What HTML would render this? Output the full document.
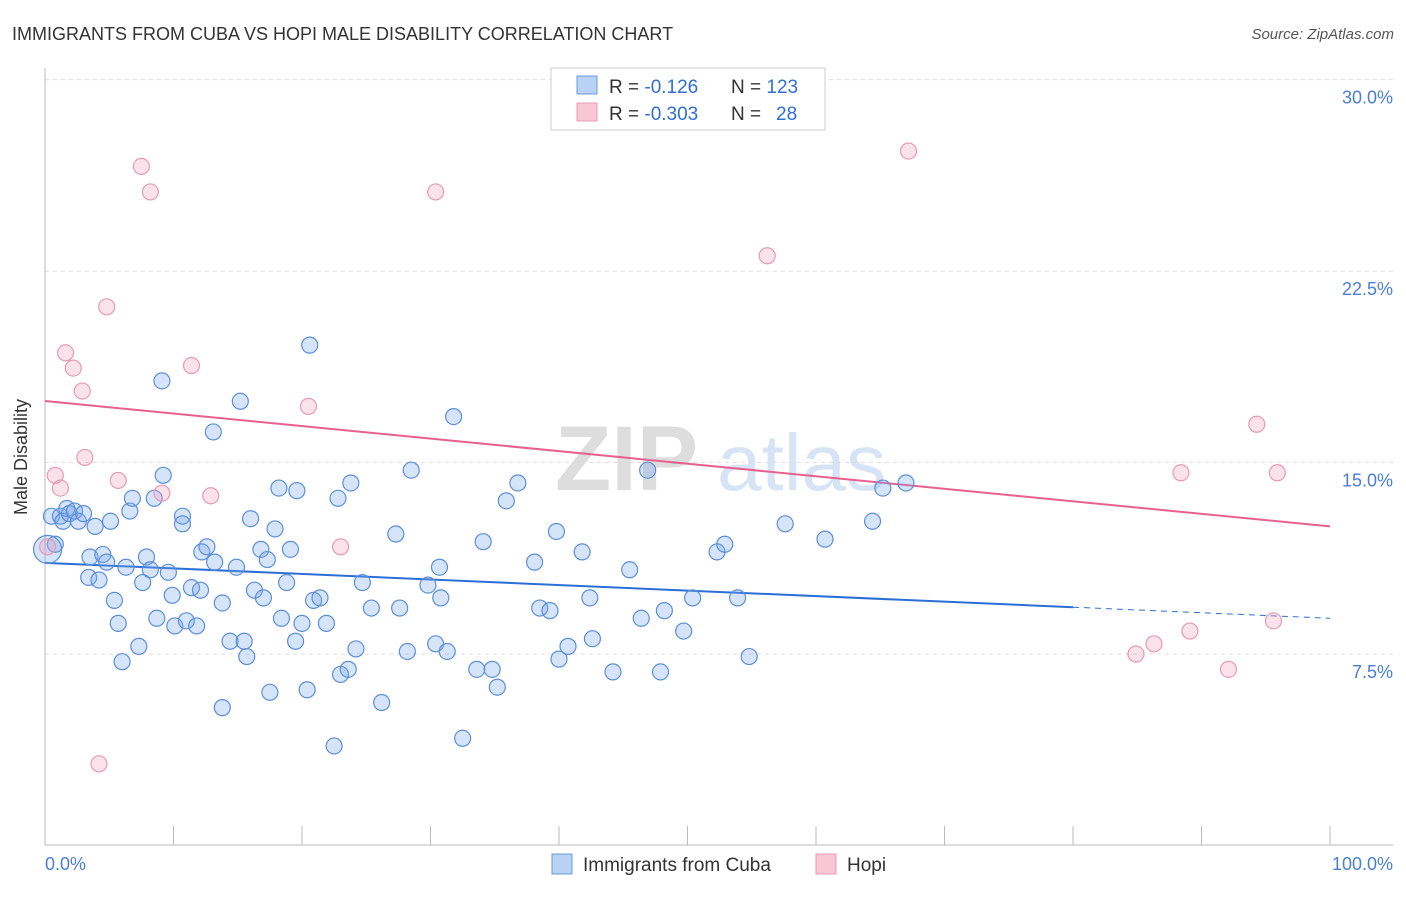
<!DOCTYPE html>
<html><head><meta charset="utf-8"><style>
body{margin:0;background:#fff;font-family:"Liberation Sans",sans-serif;}
svg text{font-family:"Liberation Sans",sans-serif;}
</style></head><body>
<svg id="chart" width="1406" height="892" xmlns="http://www.w3.org/2000/svg">
<text x="12" y="40" font-size="18" fill="#333">IMMIGRANTS FROM CUBA VS HOPI MALE DISABILITY CORRELATION CHART</text>
<text x="1394" y="39" font-size="15" fill="#555" font-style="italic" text-anchor="end">Source: ZipAtlas.com</text>
<g><text x="555" y="490" font-size="92" fill="#ddd" font-family="Liberation Serif" font-weight="bold">ZIP</text><text x="717" y="490" font-size="80" fill="#d6e4f5">atlas</text></g>
<g id="grid"></g>
<g id="axes"></g>
<g id="lines"></g>
<g id="pts"></g>
<text x="27" y="457" font-size="18" fill="#333" text-anchor="middle" transform="rotate(-90 27 457)">Male Disability</text>
<text x="45" y="870" font-size="18" fill="#4a7fd4">0.0%</text>
<text x="1393" y="870" font-size="18" fill="#4a7fd4" text-anchor="end">100.0%</text>
<g>
<rect x="551" y="68" width="274" height="62" fill="#fff" stroke="#ccc"/>
<rect x="577" y="76" width="20" height="18" fill="#b9d2f3" stroke="#6a9be0"/>
<rect x="577" y="103" width="20" height="18" fill="#f9c6d6" stroke="#ea9ab6"/>
<text x="609" y="93" font-size="19" fill="#333">R = <tspan fill="#2f6fd6">-0.126</tspan>  <tspan x="731">N = </tspan><tspan fill="#2f6fd6">123</tspan></text>
<text x="609" y="120" font-size="19" fill="#333">R = <tspan fill="#2f6fd6">-0.303</tspan>  <tspan x="731">N = </tspan><tspan fill="#2f6fd6" x="776">28</tspan></text>
</g>
<g>
<rect x="552" y="854" width="20" height="20" fill="#b9d2f3" stroke="#6a9be0"/>
<text x="583" y="871" font-size="19" fill="#333">Immigrants from Cuba</text>
<rect x="816" y="854" width="20" height="20" fill="#f9c6d6" stroke="#ea9ab6"/>
<text x="847" y="871" font-size="19" fill="#333">Hopi</text>
</g>
</svg>
<script>
const yTicks=[7.5,15,22.5,30];
const yTickLabels=["7.5%","15.0%","22.5%","30.0%"];
const xTicks=[0,10,20,30,40,50,60,70,80,90,100];
const cubaX=[0.5,0.8,1.2,1.4,1.7,1.9,2.3,2.6,3.0,3.4,3.5,3.9,4.2,4.5,4.8,5.1,5.4,5.7,6.0,6.3,6.6,6.8,7.3,7.6,7.9,8.2,8.5,8.7,9.1,9.2,9.6,9.9,10.1,10.7,10.7,11.0,11.4,11.8,12.1,12.2,12.6,13.1,13.2,13.8,13.8,14.4,14.9,15.2,15.5,15.7,16.0,16.3,16.8,17.0,17.3,17.5,17.9,18.2,18.4,18.8,19.1,19.5,19.6,20.0,20.4,20.6,20.9,21.4,21.9,22.5,22.8,23.0,23.6,23.8,24.2,24.7,25.4,26.2,27.3,27.6,28.2,28.5,29.8,30.4,30.7,30.8,31.3,31.8,32.5,33.6,34.1,34.8,35.2,35.9,36.8,38.1,38.5,39.3,39.8,40.0,40.7,41.8,42.4,42.6,44.2,45.5,46.4,46.9,47.9,48.2,49.7,50.4,52.3,52.9,53.9,54.8,57.6,60.7,64.4,65.2,67.0];
const cubaY=[12.9,11.8,12.9,12.7,13.2,13.0,13.1,12.7,13.0,10.5,11.3,12.5,10.4,11.4,11.1,12.7,9.6,8.7,7.2,10.9,13.1,13.6,7.8,10.3,11.3,10.8,13.6,8.9,18.2,14.5,10.7,9.8,8.6,12.9,12.6,8.8,10.1,8.6,10.0,11.5,11.7,16.2,11.1,5.4,9.5,8.0,10.9,17.4,8.0,7.4,12.8,10.0,11.6,9.7,11.2,6.0,12.4,14.0,8.9,10.3,11.6,8.0,13.9,8.7,6.1,19.6,9.6,9.7,8.7,3.9,13.6,6.7,6.9,14.2,7.7,10.3,9.3,5.6,12.2,9.3,7.6,14.7,10.2,7.9,10.9,9.7,7.6,16.8,4.2,6.9,11.9,6.9,6.2,13.5,14.2,11.1,9.3,9.2,12.3,7.3,7.8,11.5,9.7,8.1,6.8,10.8,8.9,14.7,6.8,9.2,8.4,9.7,11.5,11.8,9.7,7.4,12.6,12.0,12.7,14.0,14.2];
const hopiX=[0.2,0.8,1.2,1.6,2.2,2.9,3.1,4.2,4.8,5.7,7.5,8.2,9.1,11.4,12.9,20.5,23.0,30.4,56.2,67.2,84.9,86.3,88.4,89.1,92.1,94.3,95.6,95.9];
const hopiY=[11.7,14.5,14.0,19.3,18.7,17.8,15.2,3.2,21.1,14.3,26.6,25.6,13.8,18.8,13.7,17.2,11.7,25.6,23.1,27.2,7.5,7.9,14.6,8.4,6.9,16.5,8.8,14.6];
const cubaTrend=[11.07,8.9];
const hopiTrend=[17.41,12.5];
const X=v=>45+v*12.85, Y=v=>845.5-v*25.53;
const NS="http://www.w3.org/2000/svg";
function mk(p,t,a){const e=document.createElementNS(NS,t);for(const k in a)e.setAttribute(k,a[k]);p.appendChild(e);return e;}
const grid=document.getElementById('grid'),axes=document.getElementById('axes'),lines=document.getElementById('lines'),pts=document.getElementById('pts');
yTicks.forEach((t,i)=>{const l=mk(grid,'line',{x1:45,x2:1393,y1:Y(t),y2:Y(t),stroke:'#ddd','stroke-dasharray':'4,4'});


const tx=mk(axes,'text',{x:1393,y:Y(t)+24,'font-size':18,fill:'#4a7fd4','text-anchor':'end'});tx.textContent=yTickLabels[i];

});
mk(axes,'line',{x1:45,x2:45,y1:68,y2:845,stroke:'#bbb'});
mk(axes,'line',{x1:45,x2:1393,y1:845,y2:845,stroke:'#bbb'});
xTicks.forEach(t=>{const l=mk(axes,'line',{x1:X(t),x2:X(t),y1:826,y2:845,stroke:'#bbb'});

});
const tl=(v,a)=>a[0]+(a[1]-a[0])*v/100;
let l1=mk(lines,'line',{x1:X(0),y1:Y(tl(0,cubaTrend)),x2:X(80),y2:Y(tl(80,cubaTrend)),stroke:'#2b6fd6','stroke-width':2});


let l2=mk(lines,'line',{x1:X(80),y1:Y(tl(80,cubaTrend)),x2:X(100),y2:Y(tl(100,cubaTrend)),stroke:'#2b6fd6','stroke-width':1,'stroke-dasharray':'6,5'});


let l3=mk(lines,'line',{x1:X(0),y1:Y(tl(0,hopiTrend)),x2:X(100),y2:Y(tl(100,hopiTrend)),stroke:'#e8608e','stroke-width':2});


cubaX.forEach((x,i)=>{const c=mk(pts,'circle',{cx:X(x),cy:Y(cubaY[i]),r:8,fill:'rgba(120,165,235,0.3)',stroke:'#5b8fd9','stroke-width':1.2});

});
const big=mk(pts,'circle',{cx:X(0.2),cy:Y(11.6),r:14,fill:'rgba(120,165,235,0.3)',stroke:'#5b8fd9','stroke-width':1.2});


hopiX.forEach((x,i)=>{const c=mk(pts,'circle',{cx:X(x),cy:Y(hopiY[i]),r:8,fill:'rgba(240,160,190,0.3)',stroke:'#e89ab5','stroke-width':1.2});

});
</script>
</body></html>
